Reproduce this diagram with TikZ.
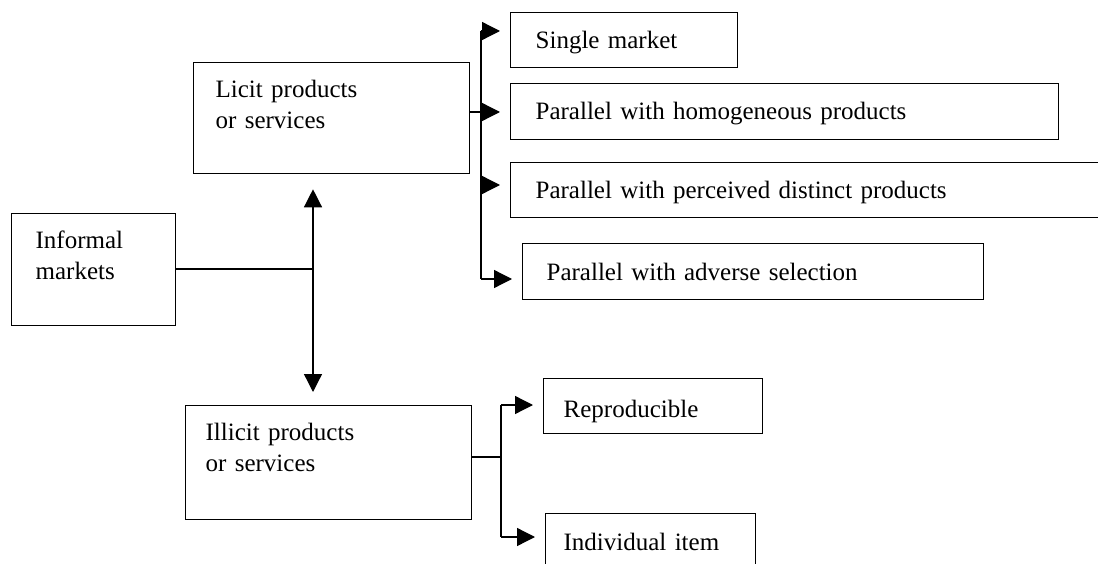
\documentclass[tikz,border=0pt]{standalone}
\usepackage{fontspec}
\setmainfont{Liberation Serif}
\usetikzlibrary{arrows.meta}
\begin{document}
\begin{tikzpicture}[x=1pt,y=-1pt,
  box/.style={draw, line width=1.3pt, rectangle, anchor=north west, inner ysep=0pt,
    align=left, font=\fontsize{25}{31}\selectfont},
  conn/.style={line width=1.3pt},
  arr/.style={conn, -{Triangle[length=18pt,width=18pt]}, shorten >=10pt},
  dbl/.style={conn, {Triangle[length=18pt,width=18pt]}-{Triangle[length=18pt,width=18pt]}},
]
\useasboundingbox (0,0) rectangle (1098,564);

% boxes
\node[box, inner xsep=24pt, text width=116pt, text height=35pt, text depth=77pt] (inf) at (11,213) {Informal\\markets};
\node[box, inner xsep=22pt, text width=232pt, text height=35pt, text depth=76pt] (lic) at (193,62) {Licit products\\or services};
\node[box, inner xsep=20pt, text width=246pt, text height=35pt, text depth=79pt] (ill) at (185,405) {Illicit products\\or services};

\node[box, inner xsep=25pt, text width=177pt, text height=36pt, text depth=19pt] (sm) at (510,12) {Single market};
\node[box, inner xsep=25pt, text width=498pt, text height=36pt, text depth=20pt] (ph) at (510,83) {Parallel with homogeneous products};
\node[box, inner xsep=25pt, text width=550pt, text height=36pt, text depth=19pt] (pd) at (510,162) {Parallel with perceived distinct products};
\node[box, inner xsep=24pt, text width=413pt, text height=37pt, text depth=19pt] (pa) at (522,243) {Parallel with adverse selection};

\node[box, inner xsep=20pt, text width=179pt, text height=39pt, text depth=16pt] (rep) at (543,378) {Reproducible};
\node[box, inner xsep=18pt, text width=174pt, text height=37pt, text depth=23pt] (ind) at (545,513) {Individual item};

% informal -> licit / illicit
\coordinate (jm) at (313,269);
\draw[conn] (inf.east |- jm) -- (jm);
\draw[dbl, shorten <=13pt, shorten >=15pt] (jm |- ill.north) -- (jm |- lic.south);

% licit branch
\coordinate (ja) at (481,31);
\coordinate (jb) at (481,112);
\coordinate (jc) at (481,185);
\coordinate (jd) at (481,279);
\draw[conn] (lic.east |- jb) -- (jb);
\draw[conn] (ja) -- (jd);
\draw[arr] (ja) -- (ja -| sm.west);
\draw[arr] (jb) -- (jb -| ph.west);
\draw[arr] (jc) -- (jc -| pd.west);
\draw[arr] (jd) -- (jd -| pa.west);

% illicit branch
\coordinate (ka) at (501,405);
\coordinate (kb) at (501,457);
\coordinate (kc) at (501,537);
\draw[conn] (ill.east |- kb) -- (kb);
\draw[conn] (ka) -- (kc);
\draw[arr] (ka) -- (ka -| rep.west);
\draw[arr] (kc) -- (kc -| ind.west);
\end{tikzpicture}
\end{document}
